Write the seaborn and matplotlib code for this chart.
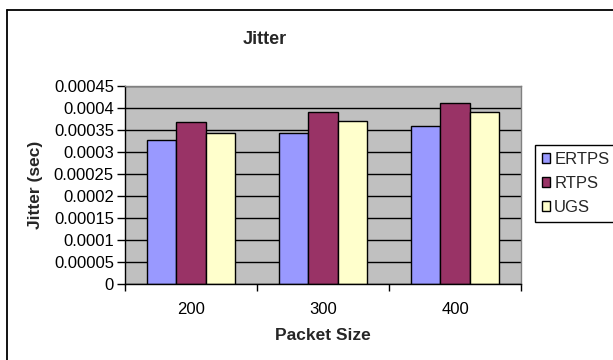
import matplotlib
matplotlib.use("Agg")
import matplotlib.pyplot as plt
from matplotlib.lines import Line2D
from matplotlib.ticker import FixedLocator
import seaborn as sns
import pandas as pd

# Measured jitter (seconds) per packet size and scheduling class
packet_sizes = ["200", "300", "400"]
ertps = [0.000327, 0.000343, 0.000358]
rtps = [0.000369, 0.000391, 0.000411]
ugs = [0.000343, 0.000371, 0.000391]
series_names = ["ERTPS", "RTPS", "UGS"]
series_colors = ["#9999FF", "#993366", "#FFFFCC"]

ytick_values = [0, 0.00005, 0.0001, 0.00015, 0.0002, 0.00025,
                0.0003, 0.00035, 0.0004, 0.00045]
ytick_labels = ["0", "0.00005", "0.0001", "0.00015", "0.0002", "0.00025",
                "0.0003", "0.00035", "0.0004", "0.00045"]

rows = []
for name, vals in zip(series_names, [ertps, rtps, ugs]):
    for size, v in zip(packet_sizes, vals):
        rows.append({"Packet Size": size, "Scheme": name, "Jitter": v})
df = pd.DataFrame(rows)

sns.set_theme(style="white")
plt.rcParams["font.family"] = ["Liberation Sans", "DejaVu Sans"]

fig = plt.figure(figsize=(6.13, 3.6), dpi=100)
ax = fig.add_axes([125 / 613, 76 / 360, 396 / 613, 198 / 360])
ax.set_facecolor("#C0C0C0")

sns.barplot(data=df, x="Packet Size", y="Jitter", hue="Scheme",
            order=packet_sizes, hue_order=series_names,
            palette=dict(zip(series_names, series_colors)),
            saturation=1, width=2 / 3, edgecolor="black", linewidth=1,
            errorbar=None, ax=ax)

ax.set_ylim(0, 0.00045)
ax.set_xlim(-0.5, 2.5)
ax.yaxis.set_major_locator(FixedLocator(ytick_values))
ax.set_yticklabels(ytick_labels)
ax.grid(axis="y", color="black", linewidth=1)
ax.set_axisbelow(True)

# Category ticks sit on the boundaries between groups
ax.set_xticks([-0.5, 0.5, 1.5, 2.5], minor=True)
ax.tick_params(axis="x", which="minor", length=5, width=1, color="black",
               direction="out", bottom=True)
ax.tick_params(axis="x", which="major", length=0, pad=13, labelsize=12,
               colors="black")
ax.tick_params(axis="y", which="major", length=6, width=1, color="black",
               direction="out", left=True, pad=2, labelsize=12,
               labelcolor="black")

for side in ("left", "bottom"):
    ax.spines[side].set_color("black")
    ax.spines[side].set_linewidth(1)
for side in ("top", "right"):
    ax.spines[side].set_visible(True)
    ax.spines[side].set_color("#808080")
    ax.spines[side].set_linewidth(1)

ax.set_title("Jitter", fontsize=13, fontweight="bold", pad=30)
ax.set_xlabel("Packet Size", fontsize=12.5, fontweight="bold", labelpad=8)
ax.set_ylabel("Jitter (sec)", fontsize=12.5, fontweight="bold", labelpad=8)
ax.title.set_position((0.354, 1))

handles, labels = ax.get_legend_handles_labels()
ax.legend(handles, labels, loc="upper left", mode="expand",
          bbox_to_anchor=(535 / 613, 1 - 223 / 360, 0.2, 78 / 360),
          bbox_transform=fig.transFigure, frameon=True, fancybox=False,
          edgecolor="black", framealpha=1, fontsize=12,
          handlelength=0.5, handleheight=0.5, handletextpad=0.25,
          labelspacing=0.55, borderpad=0.4, borderaxespad=0)
ax.get_legend().get_frame().set_linewidth(1)

# Outer chart frame
fig.add_artist(Line2D([7 / 613, 7 / 613], [0, 1 - 10 / 360],
                      transform=fig.transFigure, color="black", linewidth=1.3))
fig.add_artist(Line2D([7 / 613, 1], [1 - 10 / 360, 1 - 10 / 360],
                      transform=fig.transFigure, color="black", linewidth=1.3))

fig.savefig("out.png", dpi=100, facecolor="white")
